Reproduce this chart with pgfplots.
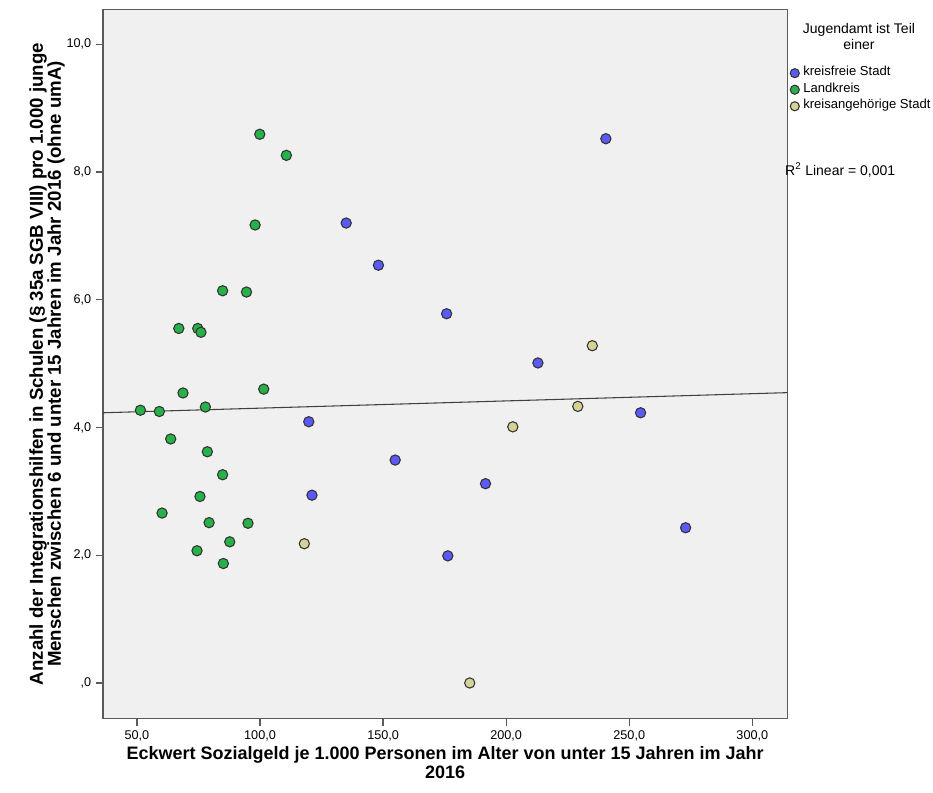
\documentclass[border=0pt]{standalone}
\usepackage{fontspec}
\setmainfont{Liberation Sans}
\usepackage{pgfplots}
\pgfplotsset{compat=1.18}
\definecolor{cblue}{RGB}{90,90,250}
\definecolor{cgreen}{RGB}{38,178,72}
\definecolor{ctan}{RGB}{214,210,150}
\definecolor{bgc}{RGB}{240,240,240}
\definecolor{framec}{RGB}{90,90,90}
\pgfplotsset{
  scat/.style={only marks, mark=*, mark size=3.85pt,
    mark options={draw=black!80, line width=0.8pt, fill=#1},
    legend image code/.code={\draw[mark repeat=2,mark phase=2,##1,mark size=3.4pt] plot coordinates {(0cm,0cm) (0.15cm,0cm) (0.3cm,0cm)};}}
}
\begin{document}
\begin{tikzpicture}
\useasboundingbox (-77.25pt,-55.875pt) rectangle (622.5pt,538.875pt);
\begin{axis}[
  at={(0,0)}, anchor=south west,
  width=513.2pt, height=531.6pt, scale only axis,
  xmin=36.2, xmax=314.2, ymin=-0.556, ymax=10.54,
  clip=false,
  axis background/.style={fill=bgc},
  axis line style={draw=framec, line width=1.1pt},
  xtick={50,100,150,200,250,300},
  xticklabels={{50,0},{100,0},{150,0},{200,0},{250,0},{300,0}},
  ytick={0,2,4,6,8,10},
  yticklabels={{,0},{2,0},{4,0},{6,0},{8,0},{10,0}},
  xtick pos=bottom, ytick pos=left,
  tick align=outside,
  major tick length=5.25pt,
  tick style={draw=framec, line width=1pt},
  tick label style={font=\fontsize{9.5}{11}\selectfont, text=black},
  every axis x label/.style={at={(rel axis cs:0.5,-0.0385)}, anchor=north, inner sep=0pt, align=center, font=\bfseries\fontsize{13.5}{14.25}\selectfont},
  every axis y label/.style={at={(rel axis cs:-0.1081,0.5)}, anchor=north, rotate=90, inner sep=0pt, align=center, font=\bfseries\fontsize{14}{13.5}\selectfont},
  xlabel={Eckwert Sozialgeld je 1.000 Personen im Alter von unter 15 Jahren im Jahr\\2016},
  ylabel={Anzahl der Integrationshilfen in Schulen (§ 35a SGB VIII) pro 1.000 junge\\Menschen zwischen 6 und unter 15 Jahren im Jahr 2016 (ohne umA)},
  legend style={at={(rel axis cs:1,0.9221)}, anchor=north west, xshift=2.25pt, draw=none, fill=none,
    font=\fontsize{9.8}{12}\selectfont, inner sep=0pt, outer sep=0pt, row sep=0pt, column sep=3pt,
    nodes={inner xsep=0pt, inner ysep=0pt, text height=8.2pt, text depth=4.2pt},
    cells={anchor=west}},
]
\addplot[black!75, line width=0.8pt, forget plot] coordinates {(36.2,4.23) (314.2,4.545)};
\addplot[scat=cblue] coordinates {
(240.5,8.52) (135.0,7.20) (148.1,6.54) (175.8,5.78) (212.9,5.01) (254.6,4.23)
(119.8,4.09) (154.9,3.49) (191.6,3.12) (121.1,2.94) (176.3,1.99) (272.9,2.43)};
\addlegendentry{kreisfreie Stadt}
\addplot[scat=cgreen] coordinates {
(99.9,8.59) (110.7,8.26) (98.0,7.17) (84.8,6.14) (94.5,6.12) (67.0,5.55)
(74.7,5.55) (76.0,5.49) (101.5,4.60) (68.7,4.54) (51.4,4.27) (59.1,4.25)
(77.8,4.32) (63.7,3.82) (78.6,3.62) (84.8,3.26) (75.6,2.92) (60.2,2.66)
(79.3,2.51) (95.1,2.50) (87.7,2.21) (74.4,2.07) (85.1,1.87)};
\addlegendentry{Landkreis}
\addplot[scat=ctan] coordinates {
(235.0,5.28) (229.1,4.33) (202.7,4.01) (118.0,2.18) (185.2,0.0)};
\addlegendentry{kreisangehörige Stadt}
\node[anchor=north, inner sep=0pt, align=center, font=\fontsize{10.5}{12.5}\selectfont] at (rel axis cs:1.1048,0.9817) {Jugendamt ist Teil\\einer};
\node[anchor=west, inner sep=0pt, font=\fontsize{10.5}{12}\selectfont] at (rel axis cs:0.9966,0.7739) {R\textsuperscript{2} Linear = 0,001};
\end{axis}
\end{tikzpicture}
\end{document}
